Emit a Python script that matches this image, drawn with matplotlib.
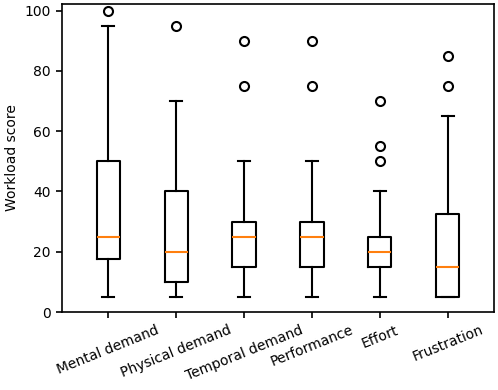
import matplotlib.pyplot as plt

labels = ["Mental demand", "Physical demand", "Temporal demand",
          "Performance", "Effort", "Frustration"]
whislo = [5, 5, 5, 5, 5, 5]
q1 = [17.5, 10, 15, 15, 15, 5]
med = [25, 20, 25, 25, 20, 15]
q3 = [50, 40, 30, 30, 25, 32.5]
whishi = [95, 70, 50, 50, 40, 65]
fliers = [[100], [95], [75, 90], [75, 90], [50, 55, 70], [75, 85]]

stats = []
for i in range(len(labels)):
    stats.append({"label": labels[i], "whislo": whislo[i], "q1": q1[i],
                  "med": med[i], "q3": q3[i], "whishi": whishi[i],
                  "fliers": fliers[i]})

plt.rc("font", size=10)
fig, ax = plt.subplots(figsize=(4.98, 3.9), dpi=100)
fig.subplots_adjust(left=0.1245, right=0.992, top=0.99, bottom=0.2)
lw = 1.5
ax.bxp(stats, widths=0.34,
       boxprops=dict(linewidth=lw),
       whiskerprops=dict(linewidth=lw),
       capprops=dict(linewidth=lw),
       medianprops=dict(color="#ff7f0e", linewidth=lw),
       flierprops=dict(marker="o", markersize=6.5, markeredgewidth=lw,
                       markerfacecolor="none"))
ax.set_xlim(0.32, 6.68)
ax.set_ylim(0, 102.2)
for s in ax.spines.values():
    s.set_linewidth(1.2)
ax.tick_params(width=1.2, length=4.5)
plt.setp(ax.get_xticklabels(), rotation=22, ha="center")
ax.set_ylabel("Workload score")
plt.savefig("out.png")
